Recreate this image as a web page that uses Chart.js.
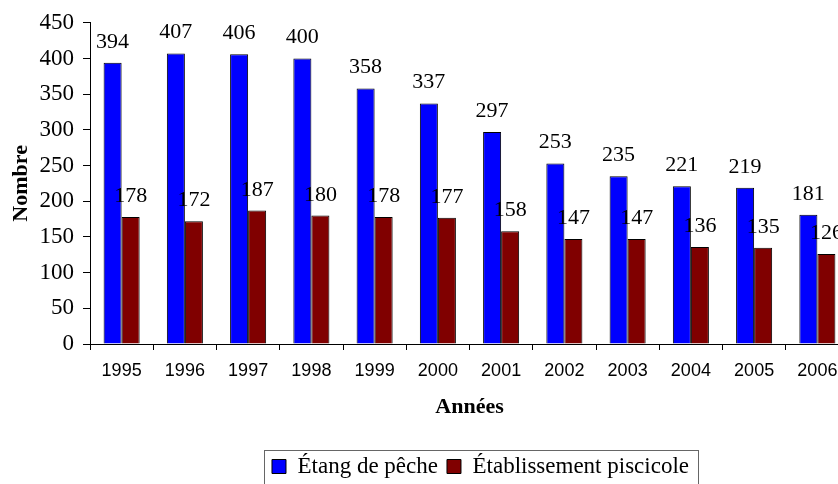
<!DOCTYPE html>
<html lang="fr">
<head>
    <meta charset="UTF-8">
    <script src="https://cdn.jsdelivr.net/npm/chart.js"></script>
    <title>Étangs de pêche et établissements piscicoles</title>
    <style>
        body {
            margin: 0;
            overflow: hidden;
            background: #fff;
        }
        .chart-box {
            width: 860px;
            height: 488px;
        }
    </style>
</head>
<body>
<div class="chart-box">
    <canvas id="pecheChart" width="860" height="488"></canvas>
</div>

<script>
    // Data
    const annees = ['1995', '1996', '1997', '1998', '1999', '2000', '2001', '2002', '2003', '2004', '2005', '2006'];
    const etangPeche = [394, 407, 406, 400, 358, 337, 297, 253, 235, 221, 219, 181];
    const etabPiscicole = [178, 172, 187, 180, 178, 177, 158, 147, 147, 136, 135, 126];

    const serif = "'Liberation Serif', 'Times New Roman', serif";
    const sans = "'Liberation Sans', Arial, sans-serif";

    // value labels above each bar
    const valueLabels = {
        id: 'valueLabels',
        afterDatasetsDraw(chart) {
            const ctx = chart.ctx;
            ctx.save();
            ctx.font = '22px ' + serif;
            ctx.fillStyle = '#000';
            ctx.textAlign = 'center';
            ctx.textBaseline = 'alphabetic';
            chart.data.datasets.forEach((ds, i) => {
                chart.getDatasetMeta(i).data.forEach((bar, j) => {
                    ctx.fillText(ds.data[j], bar.x, bar.y - 15);
                });
            });
            ctx.restore();
        }
    };

    // nudge legend to the right and draw a frame round it
    const legendShift = 11;
    const legendFrame = {
        id: 'legendFrame',
        beforeDraw(chart) {
            const lg = chart.legend;
            lg.left = chart.chartArea.left + legendShift;
            lg.right = chart.chartArea.right + legendShift;
        },
        afterDraw(chart) {
            const boxes = chart.legend.legendHitBoxes;
            if (!boxes || !boxes.length) return;
            const first = boxes[0];
            const last = boxes[boxes.length - 1];
            const ctx = chart.ctx;
            const x1 = first.left + legendShift - 8;
            const x2 = last.left + last.width + legendShift + 9;
            const mid = first.top + first.height / 2;
            ctx.save();
            ctx.strokeStyle = '#666';
            ctx.lineWidth = 1;
            ctx.strokeRect(Math.round(x1) + 0.5, Math.round(mid - 17) + 0.5, x2 - x1, 40);
            ctx.restore();
        }
    };

    const ctx = document.getElementById('pecheChart').getContext('2d');
    const pecheChart = new Chart(ctx, {
        type: 'bar',
        data: {
            labels: annees,
            datasets: [{
                label: 'Étang de pêche',
                data: etangPeche,
                backgroundColor: '#0000ff',
                borderColor: '#000',
                borderWidth: 1
            }, {
                label: 'Établissement piscicole',
                data: etabPiscicole,
                backgroundColor: '#800000',
                borderColor: '#000',
                borderWidth: 1
            }]
        },
        options: {
            responsive: false,
            animation: false,
            categoryPercentage: 0.57,
            barPercentage: 1,
            layout: {
                padding: { top: 20, right: 11, left: 0, bottom: 0 }
            },
            plugins: {
                tooltip: { enabled: false },
                legend: {
                    position: 'bottom',
                    fullSize: false,
                    labels: {
                        color: '#000',
                        font: { family: serif, size: 23 },
                        boxWidth: 14,
                        boxHeight: 14,
                        padding: 9
                    }
                }
            },
            scales: {
                x: {
                    afterFit(scale) { scale.height = 102; },
                    grid: {
                        display: true,
                        drawOnChartArea: false,
                        drawTicks: true,
                        tickLength: 6,
                        color: '#000'
                    },
                    border: { color: '#000', width: 1 },
                    ticks: {
                        color: '#000',
                        font: { family: sans, size: 18 },
                        padding: 10,
                        maxRotation: 0,
                        autoSkip: false
                    },
                    title: {
                        display: true,
                        text: 'Années',
                        color: '#000',
                        font: { family: serif, size: 22, weight: 'bold' },
                        padding: { top: 14, bottom: 25 }
                    }
                },
                y: {
                    min: 0,
                    max: 450,
                    afterFit(scale) { scale.width = 90; },
                    grid: {
                        display: true,
                        drawOnChartArea: false,
                        drawTicks: true,
                        tickLength: 7,
                        color: '#000'
                    },
                    border: { color: '#000', width: 1 },
                    ticks: {
                        stepSize: 50,
                        color: '#000',
                        font: { family: serif, size: 23 },
                        padding: 9
                    },
                    title: {
                        display: true,
                        text: 'Nombre',
                        color: '#000',
                        font: { family: serif, size: 22, weight: 'bold' },
                        padding: { top: 8, bottom: 5 }
                    }
                }
            }
        },
        plugins: [valueLabels, legendFrame]
    });
</script>
</body>
</html>
